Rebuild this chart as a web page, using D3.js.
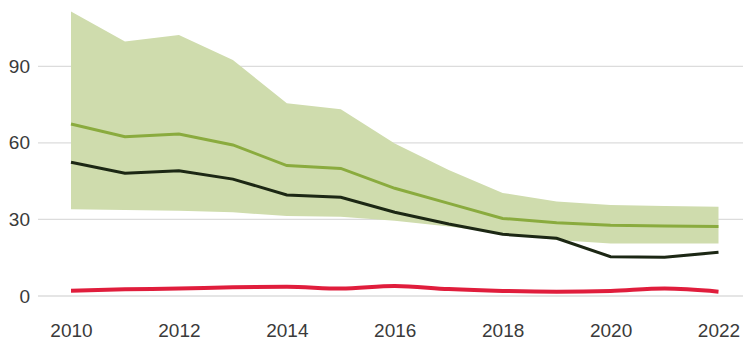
<!DOCTYPE html>
<html>
<head>
<meta charset="utf-8">
<script src="https://cdn.jsdelivr.net/npm/d3@7"></script>
<style>
  html, body { margin: 0; padding: 0; background: #fff; }
  svg { display: block; font-family: 'Liberation Sans', Arial, sans-serif; }
</style>
</head>
<body>
<div class="chart"></div>
<script>
// values
var years = [2010, 2011, 2012, 2013, 2014, 2015, 2016, 2017, 2018, 2019, 2020, 2021, 2022];
var upper = [111.5, 99.7, 102.3, 92.5, 75.5, 73.2, 59.8, 49.4, 40.4, 37, 35.7, 35.3, 35];
var lower = [34, 33.7, 33.4, 32.8, 31.3, 31.1, 29.5, 27.2, 24.6, 21.9, 20.6, 20.6, 20.6];
var mid = [67.4, 62.4, 63.5, 59.2, 51.1, 50, 42.2, 36.3, 30.4, 28.7, 27.7, 27.4, 27.2];
var dark = [52.4, 48.1, 49.1, 45.8, 39.6, 38.7, 32.8, 28.2, 24.2, 22.6, 15.4, 15.2, 17.1];
var red = [2.1, 2.6, 2.9, 3.4, 3.6, 2.9, 3.9, 2.7, 2, 1.7, 2, 2.9, 1.7];
var yTicks = [0, 30, 60, 90];
var xTicks = [2010, 2012, 2014, 2016, 2018, 2020, 2022];

var width = 743,
  height = 343;

var svg = d3
  .select('.chart')
  .append('svg')
  .attr('width', width)
  .attr('height', height);

var x = d3.scaleLinear().domain([2010, 2022]).range([71, 718.5]);
var y = d3.scaleLinear().domain([0, 90]).range([296, 66.3]);

// grid
svg
  .append('g')
  .selectAll('line')
  .data(yTicks)
  .join('line')
  .attr('x1', 38)
  .attr('x2', width)
  .attr('y1', function (d) { return y(d); })
  .attr('y2', function (d) { return y(d); })
  .attr('stroke', '#dcdcdc')
  .attr('stroke-width', 1.3);

var yAxis = d3
  .axisLeft(y)
  .tickValues(yTicks)
  .tickSize(0)
  .tickPadding(0);

svg
  .append('g')
  .attr('transform', 'translate(30,0)')
  .call(yAxis)
  .call(function (g) { g.select('.domain').remove(); })
  .selectAll('text')
  .attr('font-size', 19)
  .attr('fill', '#3a3a3a')
  .attr('font-family', 'Liberation Sans, Arial, sans-serif');

var xAxis = d3
  .axisBottom(x)
  .tickValues(xTicks)
  .tickFormat(d3.format('d'))
  .tickSize(0)
  .tickPadding(0);

svg
  .append('g')
  .attr('transform', 'translate(0,323)')
  .call(xAxis)
  .call(function (g) { g.select('.domain').remove(); })
  .selectAll('text')
  .attr('font-size', 19)
  .attr('fill', '#3a3a3a')
  .attr('font-family', 'Liberation Sans, Arial, sans-serif');

// band
var band = d3
  .area()
  .x(function (d, i) { return x(years[i]); })
  .y0(function (d, i) { return y(lower[i]); })
  .y1(function (d, i) { return y(upper[i]); });

svg
  .append('path')
  .datum(years)
  .attr('d', band)
  .attr('fill', '#cfdcad');

var line = function (vals) {
  return d3
    .line()
    .x(function (d, i) { return x(years[i]); })
    .y(function (d, i) { return y(vals[i]); })(years);
};

svg
  .append('path')
  .attr('d', line(mid))
  .attr('fill', 'none')
  .attr('stroke', '#8aab3e')
  .attr('stroke-width', 3);

svg
  .append('path')
  .attr('d', line(dark))
  .attr('fill', 'none')
  .attr('stroke', '#1c2714')
  .attr('stroke-width', 3);

svg
  .append('path')
  .attr('d', d3
    .line()
    .curve(d3.curveMonotoneX)
    .x(function (d, i) { return x(years[i]); })
    .y(function (d, i) { return y(red[i]); })(years))
  .attr('fill', 'none')
  .attr('stroke', '#e01d3c')
  .attr('stroke-width', 4);
</script>
</body>
</html>
